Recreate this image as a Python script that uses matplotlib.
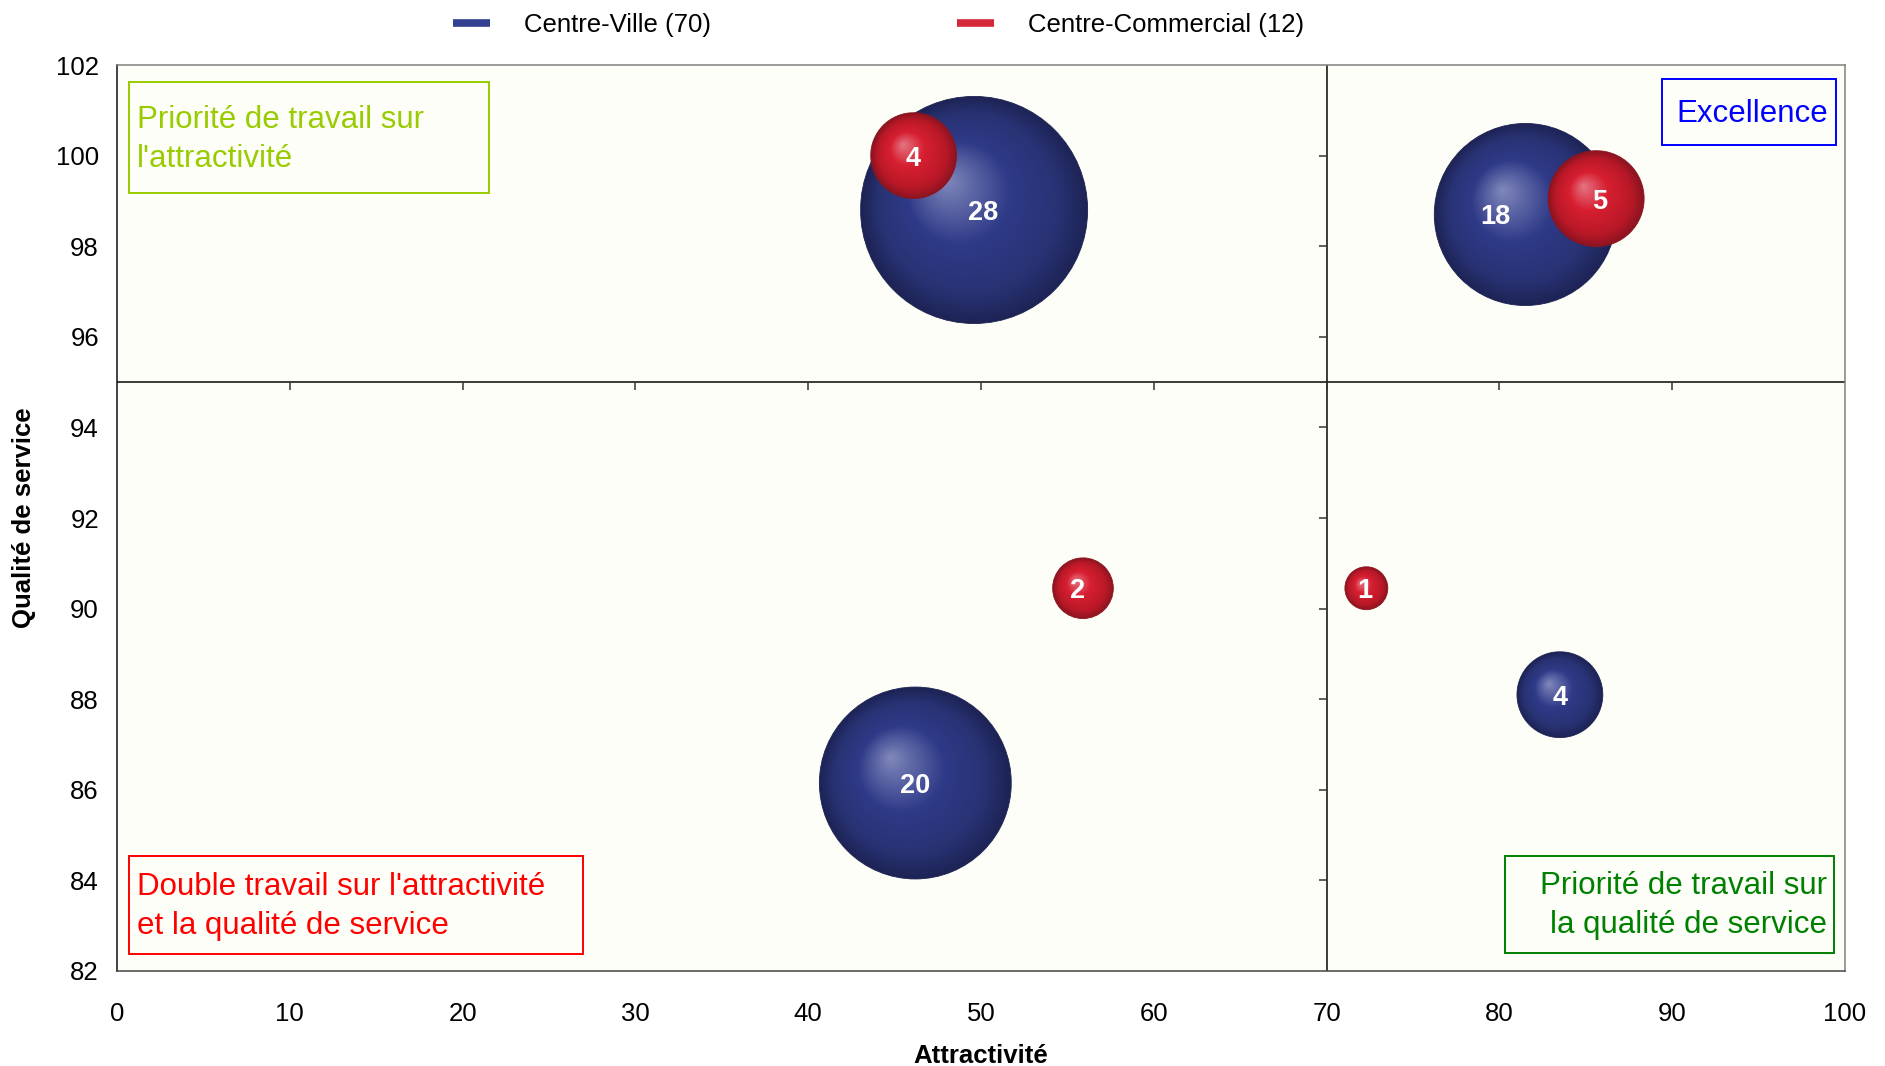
import numpy as np
import matplotlib.pyplot as plt
from matplotlib.colors import LinearSegmentedColormap
from matplotlib.patches import Ellipse, Rectangle
from matplotlib.lines import Line2D

plt.rcParams['font.family'] = ['Liberation Sans', 'DejaVu Sans']

# bubbles: attractivité (x), qualité de service (y), nombre de sites (size)
ville_x = [49.6, 81.5, 46.2, 83.5]
ville_y = [98.8, 98.7, 86.15, 88.1]
ville_n = [28, 18, 20, 4]

commercial_x = [46.1, 85.6, 55.9, 72.3]
commercial_y = [100.0, 99.05, 90.45, 90.45]
commercial_n = [4, 5, 2, 1]

x_ticks = list(range(0, 101, 10))
y_ticks = list(range(82, 103, 2))
x_split = 70
y_split = 95

# label nudges in pixels (a couple of labels sit off centre)
ville_label_dx = [9, -30, 0, 0]
commercial_label_dx = [0, 4, -5, -2]

BUBBLE_SCALE = 15.45  # radius in points for a size of 1

blue_cmap = LinearSegmentedColormap.from_list(
    "sphere_blue", [(0.0, "#8088bb"), (0.45, "#2f3a88"), (0.8, "#283273"), (1.0, "#1d2354")])
red_cmap = LinearSegmentedColormap.from_list(
    "sphere_red", [(0.0, "#e47583"), (0.4, "#d71f31"), (0.8, "#b91827"), (1.0, "#8b1420")])


def sphere_shading(n=260, hx=-0.26, hy=0.27):
    # distance from the highlight to the rim, normalised to 1 on the rim
    u = np.linspace(-1, 1, n)
    U, V = np.meshgrid(u, u)
    dx, dy = U - hx, V - hy
    dist = np.hypot(dx, dy) + 1e-9
    wx, wy = dx / dist, dy / dist
    hw = hx * wx + hy * wy
    lam = -hw + np.sqrt(hw ** 2 - (hx ** 2 + hy ** 2 - 1))
    return np.clip(dist / lam, 0, 1)


def draw_bubbles(ax, xs, ys, ns, cmap, edge, nudges, z0):
    ext = ax.get_window_extent()
    sx = ext.width / (ax.get_xlim()[1] - ax.get_xlim()[0])
    sy = ext.height / (ax.get_ylim()[1] - ax.get_ylim()[0])
    shade = sphere_shading()
    for x, y, n, ndx in zip(xs, ys, ns, nudges):
        r_px = BUBBLE_SCALE * np.sqrt(n) * ax.figure.dpi / 72
        rx, ry = r_px / sx, r_px / sy
        ell = Ellipse((x, y), 2 * rx, 2 * ry, facecolor="none", edgecolor=edge,
                      lw=0.6, zorder=z0 + 0.1)
        ax.add_patch(ell)
        img = ax.imshow(shade, cmap=cmap, vmin=0, vmax=1, origin="lower",
                        extent=(x - rx, x + rx, y - ry, y + ry), aspect="auto",
                        interpolation="bilinear", zorder=z0)
        img.set_clip_path(ell)
        ax.text(x + ndx / sx, y, str(n), color="white", fontsize=19.5,
                fontweight="bold", ha="center", va="center_baseline", zorder=30)
        z0 += 1
    return z0


fig = plt.figure(figsize=(18.85, 10.66), dpi=100)
ax = fig.add_axes([117 / 1885, 1 - 971 / 1066, 1728 / 1885, 906 / 1066])
ax.set_facecolor("#fefef8")
ax.set_xlim(0, 100)
ax.set_ylim(82, 102)
ax.set_xticks(x_ticks)
ax.set_yticks(y_ticks)
ax.tick_params(axis="x", length=0, pad=22, labelsize=18.5)
ax.tick_params(axis="y", length=0, pad=13, labelsize=18.5)

for side in ["top", "right"]:
    ax.spines[side].set_color("#808080")
ax.spines["left"].set_color("#111111")
ax.spines["bottom"].set_color("#444444")
for s in ax.spines.values():
    s.set_linewidth(1.1)

# quadrant axes crossing at (70, 95), with their own tick marks
ax.axvline(x_split, color="#1a1a1a", lw=1.2, zorder=2)
ax.axhline(y_split, color="#1a1a1a", lw=1.2, zorder=2)
ax.plot([t for t in x_ticks if 0 < t < 100], [y_split] * 9, ls="none",
        marker=3, ms=6, mew=1.1, color="#333333", zorder=2)
ax.plot([x_split] * 9, [t for t in y_ticks if 82 < t < 102], ls="none",
        marker=0, ms=6, mew=1.1, color="#333333", zorder=2)

z = draw_bubbles(ax, ville_x, ville_y, ville_n, blue_cmap, "#1d2354", ville_label_dx, 5)
draw_bubbles(ax, commercial_x, commercial_y, commercial_n, red_cmap, "#8b1420",
             commercial_label_dx, z)
ax.set_xlim(0, 100)
ax.set_ylim(82, 102)

# quadrant captions
boxes = [
    ((0.0069, 0.8587), 0.2084, 0.1225, "#99cc00"),
    ((0.8941, 0.9117), 0.1007, 0.0728, "#0000ff"),
    ((0.0069, 0.0188), 0.2628, 0.1081, "#ff0000"),
    ((0.8032, 0.0199), 0.1904, 0.1070, "#008000"),
]
for xy, w, h, c in boxes:
    ax.add_patch(Rectangle(xy, w, h, transform=ax.transAxes, fill=False,
                           edgecolor=c, lw=1.4, zorder=25))

ax.text(0.0115, 0.918, "Priorité de travail sur\nl'attractivité", transform=ax.transAxes,
        color="#99cc00", fontsize=22.5, ha="left", va="center", linespacing=1.38, zorder=26)
ax.text(0.9900, 0.946, "Excellence", transform=ax.transAxes,
        color="#0000ff", fontsize=22.5, ha="right", va="center", zorder=26)
ax.text(0.0115, 0.0715, "Double travail sur l'attractivité\net la qualité de service",
        transform=ax.transAxes, color="#ff0000", fontsize=22.5, ha="left", va="center",
        linespacing=1.38, zorder=26)
ax.text(0.9896, 0.0720, "Priorité de travail sur\nla qualité de service",
        transform=ax.transAxes, color="#008000", fontsize=22.5, ha="right", va="center",
        multialignment="right", linespacing=1.38, zorder=26)

ax.set_xlabel("Attractivité", fontsize=18.5, fontweight="bold")
ax.xaxis.set_label_coords(0.5, -0.094)
ax.xaxis.label.set_va("center")
ax.set_ylabel("Qualité de service", fontsize=18.5, fontweight="bold")
ax.yaxis.set_label_coords(-0.054, 0.5)
ax.yaxis.label.set_va("center")

handles = [
    Line2D([], [], color="#333f8f", lw=5.5, solid_capstyle="butt",
           label=f"Centre-Ville ({sum(ville_n)})"),
    Line2D([], [], color="#d4283a", lw=5.5, solid_capstyle="butt",
           label=f"Centre-Commercial ({sum(commercial_n)})"),
]
fig.legend(handles=handles, loc="center", bbox_to_anchor=(0.466, 0.977), ncol=2,
           frameon=False, fontsize=18.5, handlelength=1.45, handletextpad=1.3,
           columnspacing=9.6)

fig.savefig("out.png", dpi=100, facecolor="white")
